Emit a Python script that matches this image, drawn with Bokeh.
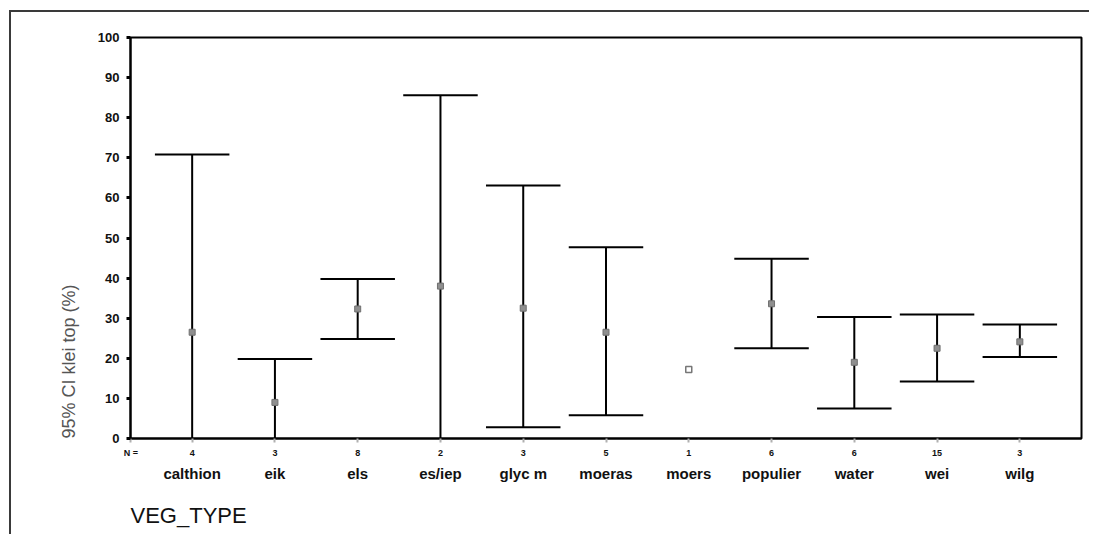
from bokeh.plotting import figure
from bokeh.models import (Range1d, LinearAxis, Title, ColumnDataSource, FixedTicker, Grid)
from bokeh.embed import file_html
from bokeh.resources import INLINE

# ---- data ----
categories = ["calthion", "eik", "els", "es/iep", "glyc m", "moeras", "moers",
              "populier", "water", "wei", "wilg"]
n_counts = [4, 3, 8, 2, 3, 5, 1, 6, 6, 15, 3]
means = [26.5, 9.0, 32.3, 38.0, 32.5, 26.5, 17.2, 33.6, 19.0, 22.5, 24.1]
upper = [70.8, 19.8, 39.8, 85.6, 63.1, 47.7, None, 44.8, 30.3, 30.9, 28.4]
lower = [-17.8, -1.8, 24.8, -9.6, 2.8, 5.8, None, 22.5, 7.5, 14.2, 20.3]
y_ticks = [0, 10, 20, 30, 40, 50, 60, 70, 80, 90, 100]

# category slots on a numeric axis (slot i is centred on i + 0.5)
pos = [i + 0.5 for i in range(len(categories))]
CAP = 0.45   # half-width of the error-bar caps, in slot widths
PAD = 0.245  # padding at each end of the x range, in slot widths

ci = [(x, u, l) for x, u, l in zip(pos, upper, lower) if u is not None]
ci_src = ColumnDataSource(dict(x=[c[0] for c in ci], up=[c[1] for c in ci],
                               lo=[c[2] for c in ci],
                               xl=[c[0] - CAP for c in ci], xr=[c[0] + CAP for c in ci]))

single_x = [x for x, n in zip(pos, n_counts) if n == 1]
single_means = [m for m, n in zip(means, n_counts) if n == 1]
multi_x = [x for x, n in zip(pos, n_counts) if n > 1]
multi_means = [m for m, n in zip(means, n_counts) if n > 1]

FONT = "Liberation Sans"

p = figure(x_range=Range1d(-PAD, len(categories) + PAD),
           y_range=Range1d(0, 100),
           x_axis_location=None,
           frame_width=951, frame_height=401,
           min_border_left=119, min_border_right=8, min_border_top=25,
           min_border_bottom=10,
           output_backend="svg", toolbar_location=None)
p.styles = {"margin-left": "9px", "margin-top": "10px",
            "border-left": "2px solid #3a3a3a", "border-top": "2px solid #3a3a3a"}

for r in p.center:
    if isinstance(r, Grid):
        r.grid_line_color = None
p.outline_line_color = "black"
p.outline_line_width = 2
p.background_fill_color = "white"
p.border_fill_color = "white"

# error bars
p.segment(x0="x", x1="x", y0="lo", y1="up", source=ci_src,
          line_color="black", line_width=2)
p.segment(x0="xl", x1="xr", y0="up", y1="up", source=ci_src,
          line_color="black", line_width=2)
p.segment(x0="xl", x1="xr", y0="lo", y1="lo", source=ci_src,
          line_color="black", line_width=2)

# means
p.scatter(x=multi_x, y=multi_means, marker="square", size=6,
          fill_color="#8f8f8f", line_color="#6f6f6f", line_width=1)
p.scatter(x=single_x, y=single_means, marker="square", size=6,
          fill_color="white", line_color="#777777", line_width=1.5)

# y axis
ya = p.yaxis[0]
ya.ticker = FixedTicker(ticks=y_ticks)
ya.minor_tick_line_color = None
ya.major_tick_in = 0
ya.major_tick_out = 4
ya.major_tick_line_width = 3
ya.major_label_standoff = 7
ya.major_label_text_font = FONT
ya.major_label_text_font_style = "bold"
ya.major_label_text_font_size = "13px"
ya.major_label_text_color = "#111111"
ya.axis_line_width = 2
ya.axis_line_color = "black"

# y title: vertical, starting at the bottom of the frame
p.add_layout(Title(text="95% CI klei top (%)", align="left", standoff=32,
                   text_font=FONT, text_font_style="normal",
                   text_font_size="18px", text_color="#555555"), "left")

# first x axis: N counts row (with "N =" at the left edge)
n_mark = -0.24
n_labels = {n_mark: "N ="}
n_labels.update({x: str(n) for x, n in zip(pos, n_counts)})
xa = LinearAxis(ticker=FixedTicker(ticks=[n_mark] + pos),
                major_label_overrides=n_labels)
xa.minor_tick_line_color = None
xa.axis_line_width = 2
xa.axis_line_color = "black"
xa.major_tick_in = 0
xa.major_tick_out = 4
xa.major_tick_line_color = "#b0b0b0"
xa.major_tick_line_width = 2
xa.major_label_standoff = 5
xa.major_label_text_font = FONT
xa.major_label_text_font_style = "bold"
xa.major_label_text_font_size = "9px"
xa.major_label_text_color = "#111111"
p.add_layout(xa, "below")

# second x axis: category names
xa2 = LinearAxis(ticker=FixedTicker(ticks=pos),
                 major_label_overrides={x: c for x, c in zip(pos, categories)})
xa2.minor_tick_line_color = None
xa2.axis_line_color = None
xa2.major_tick_line_color = None
xa2.major_tick_in = 0
xa2.major_tick_out = 0
xa2.major_label_standoff = 4
xa2.major_label_text_font = FONT
xa2.major_label_text_font_style = "bold"
xa2.major_label_text_font_size = "15px"
xa2.major_label_text_color = "#111111"
p.add_layout(xa2, "below")

# x title, left aligned under the frame
p.add_layout(Title(text="VEG_TYPE", align="left", standoff=32, offset=0,
                   text_font=FONT, text_font_style="normal",
                   text_font_size="22px", text_color="#111111"), "below")

open("out.html", "w").write(file_html(p, INLINE))
